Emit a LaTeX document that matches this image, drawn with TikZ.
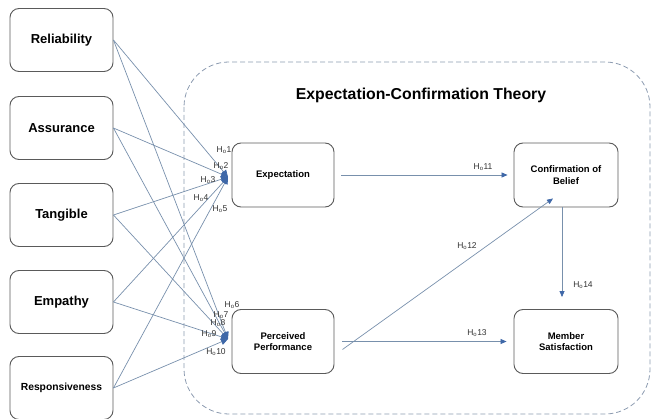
\documentclass[tikz,border=0pt]{standalone}
\usepackage{fontspec}
\setmainfont{Liberation Sans}
\usetikzlibrary{arrows.meta}
\definecolor{ln}{HTML}{7890AC}
\definecolor{tip}{HTML}{3F68A8}
\definecolor{bd}{HTML}{5A5A5A}
\definecolor{dsh}{HTML}{8C9BB0}
\begin{document}
\begin{tikzpicture}[x=1pt,y=-1pt,
  outer/.style={draw=bd, fill=white, line width=0.9pt, rounded corners=9pt, minimum width=103pt, minimum height=63pt, inner sep=0pt, font=\bfseries\fontsize{13}{15}\selectfont},
  inner/.style={draw=bd, fill=white, line width=0.9pt, rounded corners=9pt, minimum width=102pt, minimum height=64pt, inner sep=0pt, align=center, font=\bfseries\fontsize{9.5}{11.5}\selectfont},
  hyp/.style={inner sep=0pt, font=\fontsize{8.5}{10}\selectfont, text=black!80},
  conn/.style={draw=ln, line width=0.7pt, -{Triangle[length=6pt,width=5pt,color=tip]}},
  fan/.style={draw=ln, line width=0.7pt, -{Triangle[length=7pt,width=6.5pt,color=tip]}}]
\useasboundingbox (0,0) rectangle (652,419);
% theory frame
\draw[dsh, line width=0.8pt, dash pattern=on 5pt off 3pt, rounded corners=45pt] (184,62) rectangle (650,414);
\node[font=\bfseries\fontsize{15.8}{18}\selectfont] (title) at (421,95) {Expectation-Confirmation Theory};
% left constructs
\node[outer] (rel) at (61.5,40) {Reliability};
\node[outer] (ass) at (61.5,128) {Assurance};
\node[outer] (tan) at (61.5,215) {Tangible};
\node[outer] (emp) at (61.5,302) {Empathy};
\node[outer, font=\bfseries\fontsize{10.3}{12}\selectfont] (res) at (61.5,388) {Responsiveness};
% convergence points
\coordinate (eT) at (228,177);
\coordinate (pT) at (228,339);
% connectors
\foreach \s in {rel,ass,tan,emp,res} {
  \draw[fan] (\s.east) -- (eT);
  \draw[fan] (\s.east) -- (pT);
}
% inner constructs
\node[inner] (exp) at (283,175) {Expectation};
\node[inner] (pp) at (283,341.5) {Perceived\\Performance};
\node[inner, minimum width=104pt] (cb) at (566,175) {Confirmation of\\Belief};
\node[inner, minimum width=104pt] (ms) at (566,341.5) {Member\\Satisfaction};
% inner arrows
\draw[conn, shorten <=7pt, shorten >=6pt] (exp.east) -- (cb.west);
\draw[conn, shorten <=8pt, shorten >=7pt] (pp.east) -- (ms.west);
\draw[conn] ([shift={(8pt,-8pt)}]pp.east) -- ([shift={(-13pt,9pt)}]cb.south);
\draw[conn, shorten >=12pt] ([xshift=-4pt]cb.south) -- ([xshift=-4pt]ms.north);
% hypothesis labels
\node[hyp] (h1) at (224,150) {H\textsubscript{o}1};
\node[hyp] (h2) at (221,166) {H\textsubscript{o}2};
\node[hyp] (h3) at (208,180) {H\textsubscript{o}3};
\node[hyp] (h4) at (201,198) {H\textsubscript{o}4};
\node[hyp] (h5) at (220,209) {H\textsubscript{o}5};
\node[hyp] (h6) at (232,305) {H\textsubscript{o}6};
\node[hyp] (h7) at (221,315) {H\textsubscript{o}7};
\node[hyp] (h8) at (218,323) {H\textsubscript{o}8};
\node[hyp] (h9) at (209,334) {H\textsubscript{o}9};
\node[hyp] (h10) at (216,352) {H\textsubscript{o}10};
\node[hyp] (h11) at (483,167) {H\textsubscript{o}11};
\node[hyp] (h12) at (467,246) {H\textsubscript{o}12};
\node[hyp] (h13) at (477,333) {H\textsubscript{o}13};
\node[hyp] (h14) at (583,285) {H\textsubscript{o}14};
\end{tikzpicture}
\end{document}
